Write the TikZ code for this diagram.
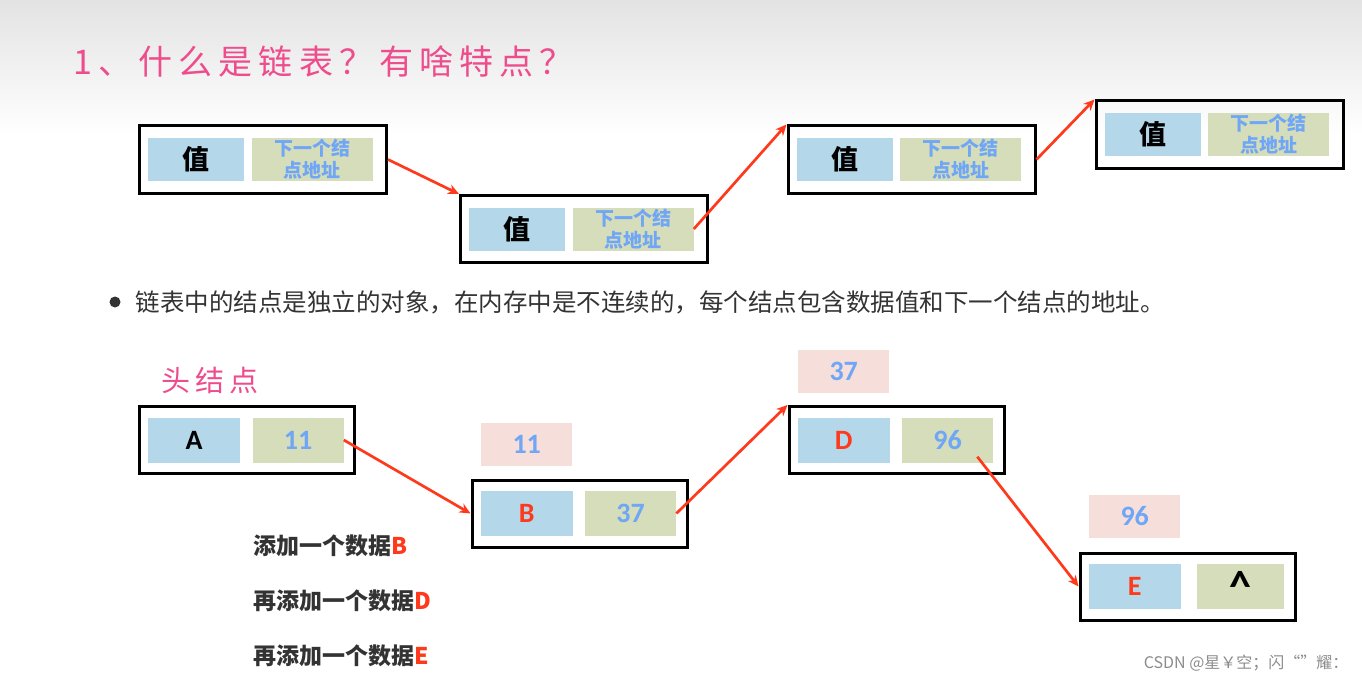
\documentclass[tikz,border=0pt]{standalone}
\usepackage{fontspec}
\setmainfont{Noto Sans CJK SC}
\newfontfamily\latfont{Carlito}
\usetikzlibrary{positioning, arrows.meta}
\definecolor{cellblue}{HTML}{B4D8EA}
\definecolor{cellgreen}{HTML}{D5DDBA}
\definecolor{cellpink}{HTML}{F6DFDB}
\definecolor{ptrtext}{HTML}{6FA6F5}
\definecolor{linkred}{HTML}{FF3A1C}
\definecolor{titlepink}{HTML}{EE4C8C}
\definecolor{bodygray}{HTML}{333333}

\begin{document}
\begin{tikzpicture}[x=1pt, y=-1pt,
  box/.style={draw=black, line width=3pt, minimum width=247pt, minimum height=67pt, inner sep=0pt},
  sbox/.style={box, minimum width=215pt},
  val/.style={fill=cellblue, minimum width=96pt, minimum height=43pt, inner sep=0pt, font=\fontsize{27}{27}\selectfont\bfseries},
  nxt/.style={fill=cellgreen, minimum width=121pt, minimum height=43pt, inner sep=0pt, align=center, text=ptrtext, font=\fontsize{19}{22}\selectfont\bfseries},
  sval/.style={val, minimum width=92pt, minimum height=45pt, font=\fontsize{28}{28}\latfont\bfseries},
  snxt/.style={nxt, minimum width=91pt, minimum height=45pt, font=\fontsize{28}{28}\latfont\bfseries},
  tag/.style={fill=cellpink, minimum width=91pt, minimum height=43pt, inner sep=0pt, text=ptrtext, font=\fontsize{28}{28}\latfont\bfseries},
  stepnote/.style={anchor=west, text=bodygray, font=\fontsize{23}{23}\selectfont\bfseries},
  link/.style={-{Stealth[length=11pt,width=10pt]}, draw=linkred, line width=2.7pt}]
\useasboundingbox (0,0) rectangle (1362,682);
\fill[top color=black!11, bottom color=white] (0,0) rectangle (1362,135);

% heading
\node[anchor=west, text=titlepink, font=\fontsize{34}{34}\selectfont\addfontfeature{LetterSpace=18}] (title) at (70,62) {1、什么是链表？有啥特点？};

% upper list
\node[box] (n1) at (263,159.5) {};
\node[val, right=10pt of n1.west] (n1v) {值};
\node[nxt, right=7pt of n1v] (n1n) {下一个结\\点地址};
\node[box] (n2) at (584,229) {};
\node[val, right=10pt of n2.west] (n2v) {值};
\node[nxt, right=7pt of n2v] (n2n) {下一个结\\点地址};
\node[box] (n3) at (911.5,159.5) {};
\node[val, right=10pt of n3.west] (n3v) {值};
\node[nxt, right=7pt of n3v] (n3n) {下一个结\\点地址};
\node[box] (n4) at (1219.5,134.5) {};
\node[val, right=10pt of n4.west] (n4v) {值};
\node[nxt, right=7pt of n4v] (n4n) {下一个结\\点地址};
\draw[link] (n1.east) -- (n2.north west);
\draw[link] (n2n.east) -- (n3.north west);
\draw[link] (n3.east) -- (n4.north west);

\node[circle, fill=bodygray, inner sep=0pt, minimum size=11pt] (dot) at (115,302) {};
\node[anchor=west, text=bodygray, font=\fontsize{24.5}{24.5}\selectfont] (desc) at (132,302) {链表中的结点是独立的对象，在内存中是不连续的，每个结点包含数据值和下一个结点的地址。};

% lower list
\node[text=titlepink, font=\fontsize{29}{29}\selectfont\addfontfeature{LetterSpace=16}] (head) at (210,380) {头结点};
\node[sbox] (a) at (247,440) {};
\node[sval, right=10pt of a.west] (av) {A};
\node[snxt, right=12pt of av] (an) {11};
\node[sbox] (b) at (579.5,513.5) {};
\node[sval, right=10pt of b.west, text=linkred] (bv) {B};
\node[snxt, right=12pt of bv] (bn) {37};
\node[tag, above=25pt of bv] (bt) {11};
\node[sbox] (d) at (896.5,440) {};
\node[sval, right=10pt of d.west, text=linkred] (dv) {D};
\node[snxt, right=12pt of dv] (dn) {96};
\node[tag, above=24pt of dv] (dt) {37};
\node[sbox] (e) at (1187.5,586.5) {};
\node[sval, right=10pt of e.west, text=linkred] (ev) {E};
\node[snxt, right=16pt of ev, minimum width=87pt, text=black, font=\fontsize{44}{44}\latfont\bfseries] (en) {\textasciicircum};
\node[tag, above=26pt of ev] (et) {96};
\draw[link] (an.east) -- (b.west);
\draw[link] (bn.east) -- (d.north west);
\draw[link] ([xshift=-16pt, yshift=6pt]dn.south east) -- (e.west);

\node[stepnote] (s1) at (250,546) {添加一个数据\textcolor{linkred}{B}};
\node[stepnote] (s2) at (250,601) {再添加一个数据\textcolor{linkred}{D}};
\node[stepnote] (s3) at (250,656) {再添加一个数据\textcolor{linkred}{E}};

\node[anchor=east, text=black!45, font=\fontsize{16}{16}\selectfont] (mark) at (1352,663) {CSDN @星￥空；闪“”耀：};
\end{tikzpicture}
\end{document}
